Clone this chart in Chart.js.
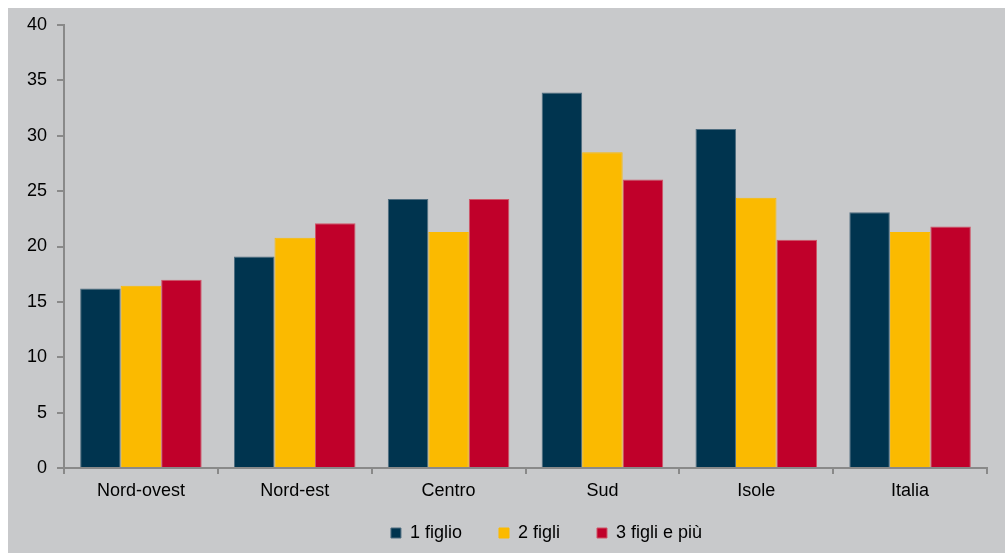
<!DOCTYPE html>
<html>
<head>
<meta charset="utf-8">
<script src="https://cdn.jsdelivr.net/npm/chart.js@4/dist/chart.umd.min.js"></script>
<style>
  html, body { margin: 0; padding: 0; background: #fff; }
  #wrap { position: absolute; left: 8px; top: 8px; width: 997px; height: 545px; background: #c8c9cb; }
</style>
</head>
<body>
<div id="wrap"><canvas id="chart" width="997" height="545"></canvas></div>
<script>
// ===== data =====
const categories = ['Nord-ovest', 'Nord-est', 'Centro', 'Sud', 'Isole', 'Italia'];
const unFiglio = [16.2, 19.1, 24.3, 33.9, 30.6, 23.1];
const dueFigli = [16.45, 20.8, 21.3, 28.5, 24.4, 21.3];
const treFigli = [17.0, 22.1, 24.3, 26.05, 20.6, 21.8];
const yTicks = [0, 5, 10, 15, 20, 25, 30, 35, 40];

const AXIS = '#898989';
const FONT = { family: 'Liberation Sans, Arial, sans-serif', size: 18 };
const LEGEND_PAD = 37;

// legenda: altezza ridotta nel layout e spostata come nell'originale
const legendFix = {
  id: 'legendFix',
  beforeLayout(chart) {
    const lg = chart.legend;
    if (!lg || lg._patched) return;
    const fit = lg.fit;
    lg.fit = function () { fit.call(this); this.height = 28; };
    lg._patched = true;
  },
  afterLayout(chart) {
    const lg = chart.legend;
    lg.left += 49; lg.right += 49;
    lg.top -= LEGEND_PAD; lg.height += LEGEND_PAD;
  }
};

const ctx = document.getElementById('chart').getContext('2d');
new Chart(ctx, {
  type: 'bar',
  data: {
    labels: categories,
    datasets: [
      { label: '1 figlio', data: unFiglio, backgroundColor: '#00344f', borderColor: '#4f6d80' },
      { label: '2 figli', data: dueFigli, backgroundColor: '#fbba00', borderColor: '#fbba00' },
      { label: '3 figli e più', data: treFigli, backgroundColor: '#c0002a', borderColor: '#cf5567' }
    ].map(ds => ({ ...ds, borderWidth: 1, borderSkipped: 'bottom', categoryPercentage: 0.79, barPercentage: 1 }))
  },
  options: {
    responsive: false,
    animation: false,
    layout: { padding: { top: 17, right: 18, bottom: 1, left: 0 } },
    plugins: {
      tooltip: { enabled: false },
      legend: {
        position: 'bottom',
        labels: { color: '#000', font: FONT, boxWidth: 10, boxHeight: 10, padding: LEGEND_PAD }
      }
    },
    scales: {
      x: {
        afterFit: s => { s.height = 56; },
        grid: { offset: true, drawOnChartArea: false, tickLength: 6, color: AXIS, lineWidth: 2 },
        border: { color: AXIS, width: 2 },
        ticks: { color: '#000', font: FONT, padding: 6, maxRotation: 0 }
      },
      y: {
        min: 0,
        max: 40,
        afterFit: s => { s.width = 56; },
        afterBuildTicks: s => { s.ticks = yTicks.map(v => ({ value: v })); },
        grid: { drawOnChartArea: false, tickLength: 7, color: AXIS, lineWidth: 2 },
        border: { color: AXIS, width: 2 },
        ticks: { color: '#000', font: { ...FONT, lineHeight: 0.7 }, padding: 10 }
      }
    }
  },
  plugins: [legendFix]
});
</script>
</body>
</html>
